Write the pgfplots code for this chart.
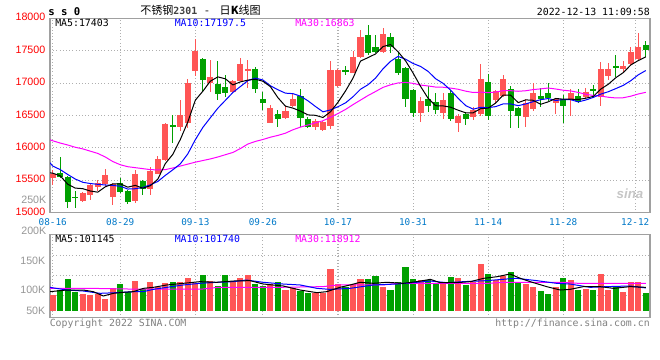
\documentclass[border=0pt]{standalone}
\usepackage{fontspec}
\setmainfont{Liberation Sans}
\newfontfamily\mono{DejaVu Sans Mono}
\newfontfamily\cjk{Noto Sans CJK SC}
\usepackage{pgfplots}
\usepackage{pgfplotstable}
\pgfplotsset{compat=1.18}
\definecolor{cred}{RGB}{255,85,85}
\definecolor{cgreen}{RGB}{0,160,0}
\definecolor{ma10c}{RGB}{0,0,255}
\definecolor{ma30c}{RGB}{255,0,255}
\definecolor{lblred}{RGB}{255,0,0}
\definecolor{lblblue}{RGB}{0,120,200}
\definecolor{gtxt}{RGB}{150,150,150}
\definecolor{bord}{RGB}{160,160,160}
\definecolor{gridc}{RGB}{175,175,175}

\pgfplotstableread{
i o h l c
0 15540 15655 15425 15605
4 15180 15315 15170 15305
5 15280 15440 15190 15425
6 15395 15500 15330 15455
7 15440 15680 15400 15580
8 15245 15460 15120 15450
11 15175 15655 15145 15595
13 15365 15700 15270 15640
14 15600 15870 15590 15825
15 15820 16380 15800 16365
17 16315 16740 16260 16505
18 16380 17060 16300 17000
19 17190 17680 17110 17500
21 17000 17355 16870 17090
24 16870 17050 16850 17030
25 17035 17385 17030 17290
26 17185 17355 16920 17225
29 16390 16660 16380 16610
31 16460 16640 16440 16570
32 16645 16855 16630 16755
35 16320 16440 16280 16410
36 16275 16420 16260 16400
37 16335 17345 16290 17195
38 16960 17210 16945 17200
40 17160 17495 17150 17405
41 17400 17820 17380 17715
44 17475 17845 17460 17755
49 16545 16790 16405 16720
52 16545 16840 16440 16745
54 16390 16520 16250 16490
56 16480 16635 16430 16585
57 16520 17295 16500 17060
59 16740 16890 16700 16880
60 16800 17125 16790 17060
63 16480 16760 16330 16700
64 16600 17000 16570 16850
67 16690 16770 16530 16750
69 16740 16905 16490 16850
71 16780 16920 16770 16865
73 16780 17330 16645 17210
74 17110 17315 17055 17225
76 17220 17340 17150 17260
77 17295 17560 17270 17475
78 17370 17770 17345 17550
}\upT

\pgfplotstableread{
i o h l c
1 15615 15860 15540 15545
2 15545 15560 15080 15170
3 15245 15330 15080 15230
9 15460 15540 15300 15320
10 15335 15350 15140 15165
12 15490 15500 15270 15360
16 16355 16505 16070 16315
20 17370 17380 16865 17055
22 16985 17345 16740 16835
23 16935 17125 16790 16850
27 17210 17255 16840 16905
28 16750 16865 16580 16695
30 16525 16585 16330 16440
33 16800 16905 16320 16465
34 16445 16480 16300 16315
39 17200 17265 17125 17185
42 17740 17895 17430 17460
43 17550 17740 17460 17485
45 17715 17768 17460 17560
46 17365 17460 17125 17160
47 17240 17245 16635 16760
48 16900 16910 16480 16545
50 16755 16955 16560 16645
51 16710 16840 16530 16585
53 16850 16900 16420 16445
55 16530 16560 16350 16445
58 17010 17140 16430 16490
61 16905 16955 16300 16575
62 16610 16630 16300 16490
65 16800 16920 16625 16750
66 16850 17005 16725 16765
68 16750 16815 16390 16645
70 16800 16905 16700 16725
72 16915 16970 16765 16885
75 17260 17435 17090 17230
79 17590 17655 17400 17510
}\downT

\pgfplotstableread{
i ma5 ma10 ma30
-0.36 15615 15770 16125
0 15610 15720 16110
1 15570 15665 16075
2 15440 15590 16045
3 15380 15520 16010
4 15371 15470 15985
5 15335 15450 15950
6 15317 15438 15915
7 15399 15428 15860
8 15443 15420 15790
9 15446 15409 15740
10 15394 15365 15710
11 15422 15370 15695
12 15378 15389 15680
13 15416 15430 15665
14 15517 15482 15660
15 15757 15576 15665
16 15901 15662 15690
17 16130 15754 15720
18 16402 15909 15750
19 16737 16127 15780
20 16875 16316 15805
21 17030 16466 15830
22 17096 16613 15860
23 17066 16734 15895
24 16972 16855 15930
25 17019 16947 15990
26 17046 17038 16060
27 17060 17078 16100
28 17029 17048 16130
29 16945 16959 16165
30 16775 16897 16193
31 16644 16845 16227
32 16614 16837 16280
33 16568 16799 16321
34 16509 16727 16354
35 16503 16639 16387
36 16469 16557 16419
37 16557 16586 16473
38 16704 16636 16531
39 16878 16694 16593
40 17077 16790 16668
41 17340 16905 16738
42 17393 16975 16808
43 17450 17077 16870
44 17564 17221 16934
45 17595 17336 16974
46 17484 17412 17002
47 17344 17369 17011
48 17156 17303 16996
49 16949 17257 16970
50 16766 17181 16956
51 16651 17068 16939
52 16648 16996 16936
53 16628 16892 16923
54 16582 16766 16905
55 16542 16654 16876
56 16542 16597 16855
57 16605 16627 16860
58 16614 16621 16853
59 16692 16637 16862
60 16815 16679 16883
61 16813 16678 16883
62 16699 16652 16874
63 16741 16678 16882
64 16735 16714 16900
65 16673 16744 16911
66 16711 16762 16924
67 16763 16731 16909
68 16752 16747 16890
69 16752 16744 16879
70 16747 16710 16856
71 16767 16739 16828
72 16794 16779 16809
73 16907 16830 16800
74 16982 16867 16782
75 17083 16915 16771
76 17162 16965 16774
77 17280 17037 16798
78 17348 17128 16832
79 17405 17194 16858
}\maT

\pgfplotstableread{
i v
0 92.1
4 93.8
5 92.1
6 93.8
7 85.3
8 103.3
11 115.7
13 114.0
14 106.1
15 112.9
17 114.0
18 121.4
19 111.8
21 115.7
24 114.6
25 121.4
26 126.4
29 110.6
31 100.5
32 103.3
35 94.9
36 94.9
37 136.0
38 110.6
40 110.6
41 119.1
44 105.6
49 117.4
52 114.6
54 120.8
56 114.6
57 144.4
59 117.4
60 124.2
63 110.6
64 105.6
67 105.0
69 117.4
71 102.2
73 127.5
74 100.5
76 97.1
77 114.0
78 114.0
}\volUp

\pgfplotstableread{
i v
1 100.5
2 119.1
3 97.7
9 110.6
10 96.6
12 101.6
16 114.0
20 126.4
22 107.3
23 126.4
27 110.6
28 107.3
30 114.0
33 98.8
34 96.0
39 105.0
42 119.1
43 124.2
45 100.5
46 113.5
47 139.4
48 119.1
50 117.4
51 110.6
53 122.5
55 109.0
58 127.5
61 130.9
62 112.9
65 98.8
66 93.8
68 120.8
70 100.5
72 100.5
75 107.3
79 95.4
}\volDown

\pgfplotstableread{
i v
-0.36 97.7
1.86 100.5
4.08 100.5
5.41 97.7
6.75 90.4
8.08 94.9
9.41 96.6
10.74 97.7
12.07 103.3
13.4 105.0
15.2 109.0
17.4 111.8
19.6 114.6
21.84 113.5
24.06 115.7
26.28 116.3
28.06 110.6
30.7 107.3
32.96 100.5
35.2 96.0
36.5 97.7
38.27 105.0
39.6 109.0
40.94 113.5
42.7 111.8
44.5 113.5
46.7 111.8
48.5 114.6
50.3 118.5
51.6 112.9
53.8 112.9
55.6 114.6
57.4 120.2
59.2 123.0
60.9 127.5
62.3 120.2
63.6 114.6
65.8 106.2
67.6 100.5
68.9 101.6
70.7 106.2
72.9 106.2
74.7 103.3
76.9 106.2
79 105.0
}\vmaA

\pgfplotstableread{
i v
-0.36 105.0
1.86 100.5
4.08 98.8
6.3 94.9
8.5 96.0
10.74 97.7
12.07 97.7
13.4 101.6
15.2 105.0
17.4 109.0
19.6 111.8
21.84 113.5
24.06 114.6
25.8 117.4
28.06 113.5
30.7 110.6
32.96 109.0
35.2 103.3
36.9 101.6
39.6 103.3
42.7 109.0
45.8 110.6
48.0 112.9
50.3 115.7
52.5 112.9
54.7 114.6
57.8 116.3
60.5 119.1
61.8 120.2
64.5 116.3
67.1 111.8
68.9 110.6
71.6 105.0
73.8 106.2
76.9 107.3
79 104.0
}\vmaB

\pgfplotstableread{
i v
-0.36 103.3
5 103.3
10 102.2
20 102.2
22 105.0
30 105.0
36 106.2
38 109.0
44 109.0
46 111.8
58 111.8
60 113.5
68 113.5
70 111.8
79 111.8
}\vmaC

\pgfplotsset{
  candle/.style 2 args={draw=none, mark=none,
    error bars/.cd, y dir=both, y explicit, error mark=none,
    error bar style={line width=#1, draw=#2}},
}

\begin{document}
\begin{tikzpicture}
\path[use as bounding box] (0pt,0pt) rectangle (495pt,-270pt);

% ---------------- price panel ----------------
\begin{axis}[
  at={(37.5pt,-159.525pt)}, anchor=south west,
  scale only axis, width=450pt, height=145.8pt,
  xmin=-0.36, xmax=79.56, ymin=15000, ymax=18000,
  scaled y ticks=false, scaled x ticks=false,
  axis line style={draw=bord, line width=1pt},
  xtick={0,9,19,28,38,48,58,68,77.6},
  xticklabels={08-16,08-29,09-13,09-26,10-17,10-31,11-14,11-28,12-12},
  xticklabel style={font=\mono\fontsize{7}{8}\selectfont, text=lblblue, yshift=-1.2pt},
  ytick={15000,15500,16000,16500,17000,17500,18000},
  yticklabels={15000,15500,16000,16500,17000,17500,18000},
  yticklabel style={font=\fontsize{8}{9}\selectfont, text=lblred, yshift=0.75pt},
  major tick length=0pt,
  grid=major, grid style={draw=gridc, dotted, line width=0.8pt},
]
\addplot[candle={0.75pt}{cred}]
  table[x=i, y expr={(\thisrow{h}+\thisrow{l})/2}, y error expr={(\thisrow{h}-\thisrow{l})/2}] {\upT};
\addplot[candle={0.75pt}{cgreen}]
  table[x=i, y expr={(\thisrow{h}+\thisrow{l})/2}, y error expr={(\thisrow{h}-\thisrow{l})/2}] {\downT};
\addplot[candle={4.6pt}{cred}]
  table[x=i, y expr={(\thisrow{o}+\thisrow{c})/2}, y error expr={abs(\thisrow{c}-\thisrow{o})/2}] {\upT};
\addplot[candle={4.6pt}{cgreen}]
  table[x=i, y expr={(\thisrow{o}+\thisrow{c})/2}, y error expr={abs(\thisrow{c}-\thisrow{o})/2}] {\downT};
\addplot[ma30c, line width=0.75pt, mark=none] table[x=i, y=ma30] {\maT};
\addplot[ma10c, line width=0.75pt, mark=none] table[x=i, y=ma10] {\maT};
\addplot[black, line width=0.75pt, mark=none] table[x=i, y=ma5] {\maT};
\end{axis}

% ---------------- volume panel ----------------
\begin{axis}[
  at={(37.5pt,-238.275pt)}, anchor=south west,
  scale only axis, width=450pt, height=62.4pt,
  xmin=-0.36, xmax=79.56, ymin=53.7, ymax=194.3,
  scaled y ticks=false, scaled x ticks=false,
  axis line style={draw=bord, line width=1pt},
  xtick={0,9,19,28,38,48,58,68}, xticklabels={},
  xmajorgrids=true, ymajorgrids=false,
  ytick={65.9,100,150}, yticklabels={50K,100K,150K},
  yticklabel style={font=\fontsize{8}{9}\selectfont, text=gtxt},
  extra y ticks={90.9,125.3,158.4}, extra y tick labels={},
  extra y tick style={grid=major},
  major tick length=0pt,
  grid style={draw=gridc, dotted, line width=0.8pt},
]
\addplot[candle={4.6pt}{cred}]
  table[x=i, y expr={(\thisrow{v}+65.6)/2}, y error expr={(\thisrow{v}-65.6)/2}] {\volUp};
\addplot[candle={4.6pt}{cgreen}]
  table[x=i, y expr={(\thisrow{v}+65.6)/2}, y error expr={(\thisrow{v}-65.6)/2}] {\volDown};
\addplot[ma30c, line width=0.75pt, mark=none] table[x=i, y=v] {\vmaC};
\addplot[ma10c, line width=0.75pt, mark=none] table[x=i, y=v] {\vmaB};
\addplot[black, line width=0.75pt, mark=none] table[x=i, y=v] {\vmaA};
\end{axis}

% ---------------- texts ----------------
\begin{scope}[x=0.75pt, y=-0.75pt, every node/.style={inner sep=0pt}]
\node[anchor=west, font=\mono\bfseries\fontsize{8}{9}\selectfont] at (48,11.7) {s s 0};
\node[anchor=west, font=\cjk\fontsize{8.3}{10}\selectfont] at (140,10) {不锈钢{\color{darkgray}\mono\bfseries\fontsize{7.4}{8}\selectfont 2301}\hspace{6pt}-\hspace{8pt}日{\bfseries K}线图};
\node[anchor=east, font=\mono\fontsize{7.4}{8}\selectfont] at (650,11.5) {2022-12-13 11:09:58};
\node[anchor=west, font=\mono\fontsize{7.4}{8}\selectfont] at (55,23) {MA5:17403};
\node[anchor=west, font=\mono\fontsize{7.4}{8}\selectfont, text=ma10c] at (174.5,23) {MA10:17197.5};
\node[anchor=west, font=\mono\fontsize{7.4}{8}\selectfont, text=ma30c] at (295,23) {MA30:16863};
\node[anchor=west, font=\mono\fontsize{7.4}{8}\selectfont] at (55,238.5) {MA5:101145};
\node[anchor=west, font=\mono\fontsize{7.4}{8}\selectfont, text=ma10c] at (174.5,238.5) {MA10:101740};
\node[anchor=west, font=\mono\fontsize{7.4}{8}\selectfont, text=ma30c] at (295,238.5) {MA30:118912};
\node[anchor=east, font=\fontsize{8}{9}\selectfont, text=gtxt] at (46.5,200.3) {250K};
\node[anchor=east, font=\fontsize{8}{9}\selectfont, text=gtxt] at (46.5,230.8) {200K};
\node[anchor=west, font=\mono\fontsize{7.4}{8}\selectfont, text=gray] at (49.5,323.7) {Copyright 2022 SINA.COM};
\node[anchor=east, font=\mono\fontsize{7.4}{8}\selectfont, text=gray] at (650,323.7) {http://finance.sina.com.cn};
\node[font=\bfseries\itshape\fontsize{10}{11}\selectfont, text=gray!45] at (630,194) {sina};
\end{scope}
\end{tikzpicture}
\end{document}
